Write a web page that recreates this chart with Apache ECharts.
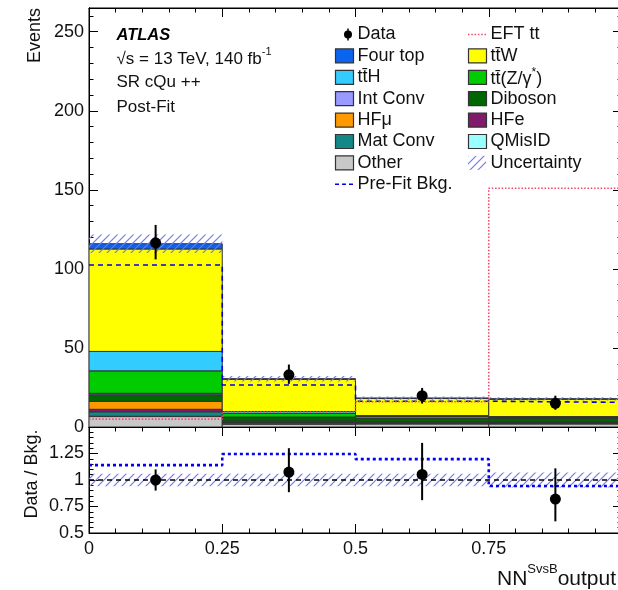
<!DOCTYPE html>
<html><head><meta charset="utf-8">
<script src="https://cdn.jsdelivr.net/npm/echarts@6/dist/echarts.min.js"></script>
<style>html,body{margin:0;padding:0;background:#fff}#c{width:618px;height:590px}</style>
</head><body><div id="c"></div>
<script>
// ---------------- data ----------------
const binEdges = [0, 0.25, 0.5, 0.75, 1];
const xTickLabels = ['0', '0.25', '0.5', '0.75', '1'];
// background components, stacked bottom -> top
const bkgNames = ['Other', 'QMisID', 'Mat Conv', 'HFe', 'HFμ', 'Diboson', 'Int Conv', 'tt̄(Z/γ*)', 'tt̄H', 'tt̄W', 'Four top'];
const other   = [6.6, 1.9, 2.0, 2.0];
const qmisid  = [0.2, 0.1, 0.1, 0.1];
const matConv = [2.8, 0.8, 0.5, 0.4];
const hfe     = [1.6, 0.5, 0.3, 0.3];
const hfmu    = [5.0, 0.5, 0.4, 0.3];
const diboson = [4.2, 2.2, 2.0, 2.6];
const intConv = [0.9, 0.3, 0.2, 0.1];
const ttz     = [14.2, 2.3, 1.2, 0.5];
const tth     = [12.3, 1.2, 0.5, 0.3];
const ttw     = [64.8, 20.4, 10.9, 11.0];
const fourTop = [3.3, 0.3, 0.2, 0.2];
const bkgUnc  = [5.8, 1.8, 1.0, 1.0];
const preFitBkg = [102.5, 26.6, 16.3, 15.6];
const eftTT   = [5.0, 9.5, 16.0, 151.0];
const dataVal = [116.5, 33.0, 19.8, 15.0];
const dataLo  = [106.0, 27.3, 14.8, 10.9];
const dataHi  = [127.8, 39.5, 24.7, 19.8];
// ratio panel
const ratioData   = [1.0, 1.075, 1.053, 0.82];
const ratioDataLo = [0.90, 0.885, 0.81, 0.61];
const ratioDataHi = [1.10, 1.30, 1.35, 1.11];
const ratioPreFit = [1.14, 1.245, 1.197, 0.944];
const ratioUnc    = [0.06, 0.06, 0.06, 0.07];
const legendLeft  = ['Data', 'Four top', 'tt̄H', 'Int Conv', 'HFμ', 'Mat Conv', 'Other', 'Pre-Fit Bkg.'];
const legendRight = ['EFT tt', 'tt̄W', 'tt̄(Z/γ*)', 'Diboson', 'HFe', 'QMisID', 'Uncertainty'];

// ---------------- styles ----------------
const comps = [other, qmisid, matConv, hfe, hfmu, diboson, intConv, ttz, tth, ttw, fourTop];
const colorMap = {
  'Other': '#c8c8c8', 'QMisID': '#99ffff', 'Mat Conv': '#148886', 'HFe': '#801a6b',
  'HFμ': '#ff9900', 'Diboson': '#006600', 'Int Conv': '#9999ff', 'tt̄(Z/γ*)': '#00cc00',
  'tt̄H': '#33ccff', 'tt̄W': '#ffff00', 'Four top': '#0a64f0'
};
const FONT = '"Liberation Sans", Arial, Helvetica, sans-serif';
const bins = [0, 1, 2, 3];

const hatchCanvas = document.createElement('canvas');
hatchCanvas.width = 8; hatchCanvas.height = 8;
const hc = hatchCanvas.getContext('2d');
hc.strokeStyle = '#7676f2'; hc.lineWidth = 1.2;
hc.beginPath();
hc.moveTo(0, 8); hc.lineTo(8, 0);
hc.moveTo(-2, 2); hc.lineTo(2, -2);
hc.moveTo(6, 10); hc.lineTo(10, 6);
hc.stroke();
const hatch = { image: hatchCanvas, repeat: 'repeat' };

// ---------------- render helpers ----------------
function rectItem(params, api) {
  const p0 = api.coord([api.value(0), api.value(3)]);
  const p1 = api.coord([api.value(1), api.value(2)]);
  return { type: 'rect', shape: { x: p0[0], y: p0[1], width: p1[0] - p0[0], height: p1[1] - p0[1] },
    style: { fill: api.visual('color'), stroke: '#333', lineWidth: 1 } };
}
function hatchItem(params, api) {
  const p0 = api.coord([api.value(0), api.value(3)]);
  const p1 = api.coord([api.value(1), api.value(2)]);
  return { type: 'rect', shape: { x: p0[0], y: p0[1], width: p1[0] - p0[0], height: p1[1] - p0[1] },
    style: { fill: hatch, stroke: null } };
}
function dataItem(params, api) {
  const c = api.coord([api.value(0), api.value(1)]);
  const lo = api.coord([api.value(0), api.value(2)]);
  const hi = api.coord([api.value(0), api.value(3)]);
  return { type: 'group', children: [
    { type: 'line', shape: { x1: c[0], y1: hi[1], x2: c[0], y2: lo[1] }, style: { stroke: '#000', lineWidth: 2 } },
    { type: 'circle', shape: { cx: c[0], cy: c[1], r: 5.5 }, style: { fill: '#000' } }
  ] };
}
const stepData = vals => binEdges.map((e, i) => [e, vals[Math.min(i, vals.length - 1)]]);
const centers = bins.map(i => (binEdges[i] + binEdges[i + 1]) / 2);

const series = [];
comps.forEach((arr, k) => {
  series.push({
    name: bkgNames[k], type: 'custom', xAxisIndex: 0, yAxisIndex: 0, clip: true,
    itemStyle: { color: colorMap[bkgNames[k]] }, renderItem: rectItem,
    encode: { x: [0, 1], y: [2, 3] },
    data: bins.map(i => { let lo = 0; for (let j = 0; j < k; j++) lo += comps[j][i]; return [binEdges[i], binEdges[i + 1], lo, lo + arr[i]]; })
  });
});
const totals = bins.map(i => comps.reduce((s, a) => s + a[i], 0));
series.push({
  name: 'Uncertainty', type: 'custom', xAxisIndex: 0, yAxisIndex: 0, clip: true, renderItem: hatchItem,
  encode: { x: [0, 1], y: [2, 3] },
  data: bins.map(i => [binEdges[i], binEdges[i + 1], totals[i] - bkgUnc[i], totals[i] + bkgUnc[i]])
});
series.push({
  name: 'Pre-Fit Bkg.', type: 'line', step: 'end', xAxisIndex: 0, yAxisIndex: 0, symbol: 'none', z: 5,
  lineStyle: { color: '#0000ee', width: 1.6, type: [5, 4] }, data: stepData(preFitBkg)
});
series.push({
  name: 'EFT tt', type: 'line', step: 'end', xAxisIndex: 0, yAxisIndex: 0, symbol: 'none', z: 5,
  lineStyle: { color: '#f5446e', width: 1.6, type: [1.5, 1.8] }, data: stepData(eftTT)
});
series.push({
  name: 'Data', type: 'custom', xAxisIndex: 0, yAxisIndex: 0, renderItem: dataItem, z: 10,
  encode: { x: 0, y: [1, 2, 3] },
  data: bins.map(i => [centers[i], dataVal[i], dataLo[i], dataHi[i]])
});
// ratio
series.push({
  name: 'RatioUnc', type: 'custom', xAxisIndex: 2, yAxisIndex: 4, clip: true, renderItem: hatchItem,
  encode: { x: [0, 1], y: [2, 3] },
  data: bins.map(i => [binEdges[i], binEdges[i + 1], 1 - ratioUnc[i], 1 + ratioUnc[i]])
});
series.push({
  name: 'One', type: 'line', xAxisIndex: 2, yAxisIndex: 4, symbol: 'none', z: 4,
  lineStyle: { color: '#000', width: 1.4, type: [5, 4] }, data: [[binEdges[0], 1], [binEdges[4], 1]]
});
series.push({
  name: 'RatioPreFit', type: 'line', step: 'end', xAxisIndex: 2, yAxisIndex: 4, symbol: 'none', z: 5,
  lineStyle: { color: '#0000ff', width: 2.6, type: [3, 3] }, data: stepData(ratioPreFit)
});
series.push({
  name: 'RatioData', type: 'custom', xAxisIndex: 2, yAxisIndex: 4, renderItem: dataItem, z: 10,
  encode: { x: 0, y: [1, 2, 3] },
  data: bins.map(i => [centers[i], ratioData[i], ratioDataLo[i], ratioDataHi[i]])
});

// ---------------- axes ----------------
const lbl = { fontFamily: FONT, fontSize: 18, color: '#111' };
function xAx(grid, pos, showLabel) {
  return {
    type: 'value', gridIndex: grid, position: pos, min: 0, max: 1, interval: 0.25,
    axisLine: { show: true, onZero: false, lineStyle: { color: '#000', width: 1 } },
    axisTick: { show: true, inside: true, length: 9, lineStyle: { color: '#000' } },
    minorTick: { show: true, splitNumber: 5, length: 4.5, lineStyle: { color: '#000' } },
    splitLine: { show: false },
    axisLabel: Object.assign({ show: showLabel, margin: 7, formatter: v => xTickLabels[binEdges.indexOf(v)] || '' }, lbl)
  };
}
function yAx(grid, pos, min, max, interval, tickLen, showLabel, fmt, minor) {
  return {
    type: 'value', gridIndex: grid, position: pos, min: min, max: max, interval: interval,
    axisLine: { show: true, onZero: false, lineStyle: { color: '#000', width: 1 } },
    axisTick: { show: true, inside: true, length: tickLen, lineStyle: { color: '#000' } },
    minorTick: { show: !!minor, splitNumber: 5, length: 4.5, lineStyle: { color: '#000' } },
    splitLine: { show: false },
    axisLabel: Object.assign({ show: showLabel, margin: 5, formatter: fmt }, lbl)
  };
}
const mainFmt = v => (v % 50 === 0 ? String(v) : '');
const ratioFmt = v => (v >= 1.5 ? '' : String(v));

// ---------------- graphics (legend, texts) ----------------
const gfx = [];
const rowY = i => 34.5 + i * 21.4;
function legendEntry(name, i, xIcon, xText) {
  const y = rowY(i);
  if (name === 'Data') {
    gfx.push({ type: 'line', shape: { x1: xIcon + 13, y1: y - 6, x2: xIcon + 13, y2: y + 6 }, style: { stroke: '#000', lineWidth: 1.5 } });
    gfx.push({ type: 'circle', shape: { cx: xIcon + 13, cy: y, r: 4 }, style: { fill: '#000' } });
  } else if (name === 'Pre-Fit Bkg.') {
    gfx.push({ type: 'line', shape: { x1: xIcon, y1: y, x2: xIcon + 18, y2: y }, style: { stroke: '#0000ee', lineWidth: 1.6, lineDash: [4, 3] } });
  } else if (name === 'EFT tt') {
    gfx.push({ type: 'line', shape: { x1: xIcon, y1: y, x2: xIcon + 19, y2: y }, style: { stroke: '#f5446e', lineWidth: 1.6, lineDash: [1.5, 1.8] } });
  } else if (name === 'Uncertainty') {
    gfx.push({ type: 'rect', shape: { x: xIcon, y: y - 7, width: 18, height: 14 }, style: { fill: hatch } });
  } else {
    gfx.push({ type: 'rect', shape: { x: xIcon + 0.5, y: y - 7, width: 18, height: 14 }, style: { fill: colorMap[name], stroke: '#333', lineWidth: 1.2 } });
  }
  let text = name, rich;
  if (name === 'tt̄(Z/γ*)') {
    text = '{n|tt̄(Z/γ}{s|*}{n|)}';
    rich = { n: { fontSize: 18, fontFamily: FONT, verticalAlign: 'bottom', lineHeight: 22 }, s: { fontSize: 12, fontFamily: FONT, verticalAlign: 'top', lineHeight: 22 } };
  }
  gfx.push({ type: 'text', x: xText, y: y, style: { text: text, rich: rich, fontFamily: FONT, fontSize: 18, fill: '#111', verticalAlign: 'middle', align: 'left' } });
}
legendLeft.forEach((n, i) => legendEntry(n, i, 335, 357.5));
legendRight.forEach((n, i) => legendEntry(n, i, 468, 490.5));

gfx.push({ type: 'text', x: 116.5, y: 35, style: { text: 'ATLAS', font: 'italic bold 16.5px ' + FONT, fill: '#000', verticalAlign: 'middle' } });
gfx.push({ type: 'text', x: 116.5, y: 57, style: {
  text: '{a|√s = 13 TeV, 140 fb}{s|-1}', verticalAlign: 'middle',
  rich: { a: { fontSize: 17, fontFamily: FONT, fill: '#111', verticalAlign: 'bottom', lineHeight: 22 }, s: { fontSize: 11, fontFamily: FONT, fill: '#111', verticalAlign: 'top', lineHeight: 22 } } } });
gfx.push({ type: 'text', x: 116.5, y: 82, style: { text: 'SR cQu ++', fontFamily: FONT, fontSize: 17, fill: '#111', verticalAlign: 'middle' } });
gfx.push({ type: 'text', x: 116.5, y: 107, style: { text: 'Post-Fit', fontFamily: FONT, fontSize: 17, fill: '#111', verticalAlign: 'middle' } });
gfx.push({ type: 'text', x: 35, y: 8, rotation: Math.PI / 2, style: { text: 'Events', fontFamily: FONT, fontSize: 18, fill: '#111', align: 'right', verticalAlign: 'middle' } });
gfx.push({ type: 'text', x: 32, y: 474, rotation: Math.PI / 2, style: { text: 'Data / Bkg.', fontFamily: FONT, fontSize: 18, fill: '#111', align: 'center', verticalAlign: 'middle' } });
gfx.push({ type: 'text', x: 497, y: 576, style: {
  text: '{a|NN}{s|SvsB}{a|output}', verticalAlign: 'middle',
  rich: { a: { fontSize: 21, fontFamily: FONT, fill: '#111', verticalAlign: 'bottom', lineHeight: 27 }, s: { fontSize: 13, fontFamily: FONT, fill: '#111', verticalAlign: 'top', lineHeight: 27 } } } });

const chart = echarts.init(document.getElementById('c'), null, { renderer: 'canvas' });
chart.setOption({
  animation: false,
  backgroundColor: '#fff',
  grid: [
    { left: 89, top: 8, width: 533, height: 419, containLabel: false, outerBoundsMode: 'none', show: true, borderColor: '#000', borderWidth: 1, backgroundColor: 'transparent' },
    { left: 89, top: 427, width: 533, height: 106, containLabel: false, outerBoundsMode: 'none', show: true, borderColor: '#000', borderWidth: 1, backgroundColor: 'transparent' }
  ],
  xAxis: [xAx(0, 'bottom', false), xAx(0, 'top', false), xAx(1, 'bottom', true), xAx(1, 'top', false)],
  yAxis: [
    yAx(0, 'left', 0, 265, 50, 9, true, mainFmt, false),
    yAx(0, 'left', 0, 265, 10, 4.5, false, mainFmt, false),
    yAx(0, 'right', 0, 265, 50, 9, false, mainFmt, false),
    yAx(0, 'right', 0, 265, 10, 4.5, false, mainFmt, false),
    yAx(1, 'left', 0.5, 1.5, 0.25, 9, true, ratioFmt, true),
    yAx(1, 'right', 0.5, 1.5, 0.25, 9, false, ratioFmt, true)
  ],
  series: series,
  graphic: gfx
});
</script></body></html>
